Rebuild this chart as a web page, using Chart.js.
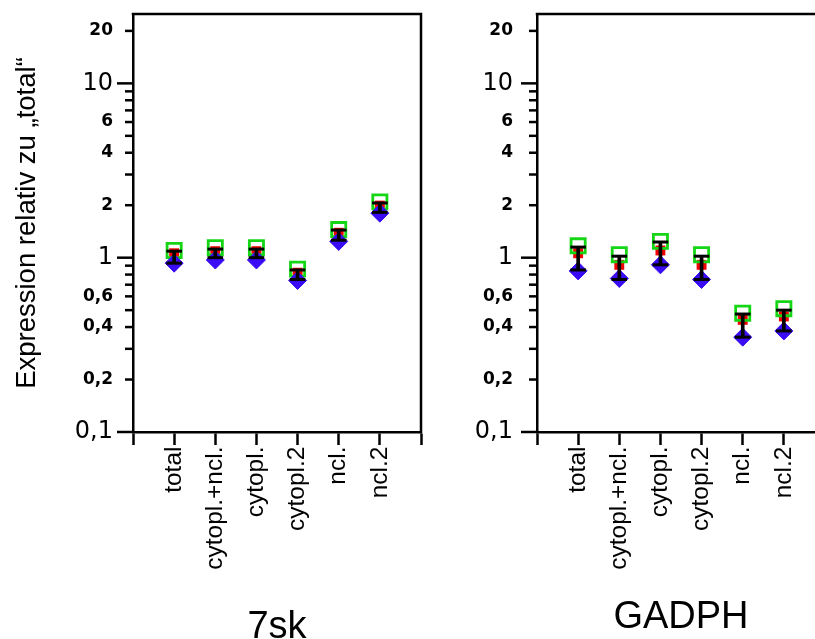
<!DOCTYPE html>
<html><head><meta charset="utf-8">
<script src="https://cdn.jsdelivr.net/npm/chart.js@4.4.1/dist/chart.umd.min.js"></script>
<style>
html,body{margin:0;padding:0;background:#fff;overflow:hidden}
#wrap{position:relative;width:815px;height:639px;overflow:hidden;background:#fff}
#p1{position:absolute;left:0;top:0;width:465px;height:639px}
#p2{position:absolute;left:465px;top:0;width:395px;height:639px}
</style></head><body>
<div id="wrap"><div id="p1"><canvas id="c1"></canvas></div><div id="p2"><canvas id="c2"></canvas></div></div>
<script>
// ---- data ----
const categories = ['total', 'cytopl.+ncl.', 'cytopl.', 'cytopl.2', 'ncl.', 'ncl.2'];
const yTickValues = [0.1, 0.2, 0.4, 0.6, 1, 2, 4, 6, 10, 20];
const yTickLabels = ['0,1', '0,2', '0,4', '0,6', '1', '2', '4', '6', '10', '20'];
const yMin = 0.1, yMax = 25;
const yTitle = 'Expression relativ zu \u201Etotal\u201C';

// 7sk panel
const sk_green = [1.10, 1.14, 1.14, 0.86, 1.45, 2.09];
const sk_red   = [1.06, 1.09, 1.09, 0.82, 1.39, 1.99];
const sk_blue  = [0.93, 0.97, 0.97, 0.74, 1.24, 1.80];
const sk_errHi = [1.09, 1.12, 1.12, 0.85, 1.44, 2.06];
const sk_errLo = [0.93, 1.00, 1.00, 0.75, 1.26, 1.82];

// GADPH panel
const ga_green = [1.17, 1.04, 1.24, 1.04, 0.48, 0.51];
const ga_red   = [1.06, 0.91, 1.10, 0.91, 0.44, 0.46];
const ga_blue  = [0.84, 0.76, 0.91, 0.75, 0.35, 0.38];
const ga_errHi = [1.15, 1.02, 1.23, 1.02, 0.475, 0.50];
const ga_errLo = [0.85, 0.75, 0.91, 0.75, 0.35, 0.38];

// ---- helpers ----
const pts = arr => arr.map((v, i) => ({x: i + 1, y: v}));
const isDecade = v => Math.abs(Math.log10(v) - Math.round(Math.log10(v))) < 1e-6;

function makeDatasets(green, red, blue, lo, hi) {
  return [
    {type: 'scatter', label: 'cap hi', data: pts(hi), pointStyle: 'line', pointRadius: 7.8, pointHoverRadius: 7.8,
     pointBorderColor: '#000', pointBorderWidth: 3, order: 0},
    {type: 'scatter', label: 'cap lo', data: pts(lo), pointStyle: 'line', pointRadius: 7.8, pointHoverRadius: 7.8,
     pointBorderColor: '#000', pointBorderWidth: 3, order: 0},
    {type: 'bar', label: 'err', data: lo.map((v, i) => ({x: i + 1, y: [v, hi[i]]})),
     backgroundColor: '#000', borderWidth: 0, barThickness: 3, order: 1},
    {type: 'scatter', label: 'blue', data: pts(blue), pointStyle: 'rectRot', pointRadius: 9, pointHoverRadius: 9,
     pointBackgroundColor: '#3a0cf5', pointBorderColor: '#3a0cf5', pointBorderWidth: 1, order: 2},
    {type: 'scatter', label: 'green', data: pts(green), pointStyle: 'rect', pointRadius: 10, pointHoverRadius: 10,
     pointBackgroundColor: 'rgba(0,0,0,0)', pointBorderColor: '#14d614', pointBorderWidth: 2.8, order: 3},
    {type: 'scatter', label: 'red', data: pts(red), pointStyle: 'rect', pointRadius: 7, pointHoverRadius: 7,
     pointBackgroundColor: '#f00000', pointBorderColor: '#f00000', pointBorderWidth: 0, order: 4}
  ];
}

const yTickMarks = {
  id: 'yTickMarks',
  afterDraw(chart) {
    const s = chart.scales.y, ctx = chart.ctx;
    ctx.save();
    ctx.strokeStyle = '#000';
    ctx.lineWidth = 2.5;
    s.ticks.forEach(t => {
      const v = t.value;
      if (v > yMax + 1e-9) return;
      const e = Math.floor(Math.log10(v) + 1e-9);
      const m = v / Math.pow(10, e), mr = Math.round(m);
      if (Math.abs(m - mr) > 1e-6 || mr < 1 || mr > 9) return;
      const len = mr === 1 ? 16 : 8;
      const y = s.getPixelForValue(v);
      ctx.beginPath();
      ctx.moveTo(s.right - len, y);
      ctx.lineTo(s.right, y);
      ctx.stroke();
    });
    ctx.restore();
  }
};

const frame = {
  id: 'frame',
  afterDraw(chart) {
    const {left, top, right, bottom} = chart.chartArea, ctx = chart.ctx;
    ctx.save();
    ctx.strokeStyle = '#000';
    ctx.lineWidth = 2.5;
    ctx.lineJoin = 'miter';
    ctx.lineCap = 'square';
    ctx.beginPath();
    ctx.moveTo(left, top);
    ctx.lineTo(right, top);
    ctx.lineTo(right, bottom);
    ctx.stroke();
    ctx.restore();
  }
};

function makeChart(id, title, titlePadBottom, green, red, blue, lo, hi, yWidth, showYTitle, yLabelPad, padRight) {
  return new Chart(document.getElementById(id), {
    type: 'scatter',
    data: {datasets: makeDatasets(green, red, blue, lo, hi)},
    options: {
      animation: false,
      responsive: true,
      maintainAspectRatio: false,
      events: [],
      layout: {padding: {left: 0, top: 14, right: padRight, bottom: 0}},
      plugins: {legend: {display: false}, tooltip: {enabled: false}},
      scales: {
        x: {
          type: 'linear', min: 0, max: 7, offset: false,
          grid: {display: true, drawOnChartArea: false, drawTicks: true, tickLength: 13, tickWidth: 2.5, tickColor: '#000', offset: false},
          border: {display: true, width: 2.5, color: '#000'},
          ticks: {
            stepSize: 1, autoSkip: false, minRotation: 90, maxRotation: 90, padding: 1.5, color: '#000',
            font: {family: 'Liberation Sans', size: 24.5},
            callback: v => (Number.isInteger(v) && v >= 1 && v <= categories.length) ? categories[v - 1] : ''
          },
          title: {display: true, text: title, color: '#000',
                  font: {family: 'Liberation Sans', size: 38, lineHeight: 1},
                  padding: {top: 0, bottom: titlePadBottom}},
          afterFit: s => { s.height = 207; s.paddingTop = 0; s.paddingBottom = 0; }
        },
        y: {
          type: 'logarithmic', min: yMin, max: yMax,
          grid: {display: true, drawOnChartArea: false, drawTicks: false},
          border: {display: true, width: 2.5, color: '#000'},
          ticks: {
            autoSkip: false, padding: yLabelPad, color: '#000',
            font: c => (c.tick && isDecade(c.tick.value))
              ? {family: 'DejaVu Sans', size: 24, weight: 'normal'}
              : {family: 'DejaVu Sans', size: 17, weight: 'bold'},
            callback: v => {
              const i = yTickValues.findIndex(t => Math.abs(t - v) < 1e-9);
              return i >= 0 ? yTickLabels[i] : '';
            }
          },
          title: {display: showYTitle, text: yTitle, color: '#000',
                  font: {family: 'Liberation Sans', size: 27.5},
                  padding: {top: 10.5, bottom: 0}},
          afterFit: s => { s.width = yWidth; s.paddingTop = 0; s.paddingBottom = 0; }
        }
      }
    },
    plugins: [yTickMarks, frame]
  });
}

makeChart('c1', '7sk', -8, sk_green, sk_red, sk_blue, sk_errLo, sk_errHi, 133, true, 20, 44);
makeChart('c2', 'GADPH', 2, ga_green, ga_red, ga_blue, ga_errLo, ga_errHi, 72, false, 24, 35);
</script>
</body></html>
